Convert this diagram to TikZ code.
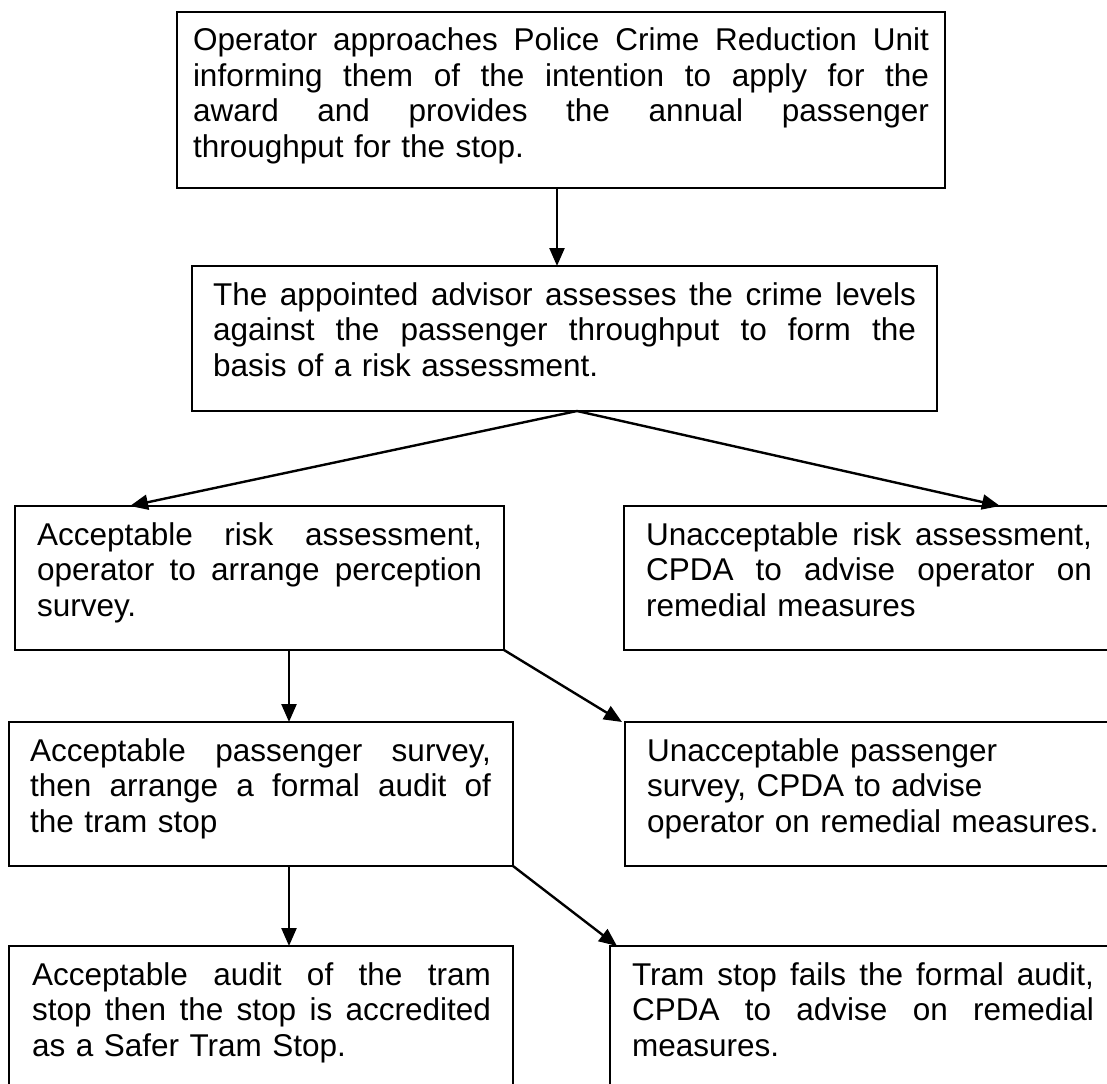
\documentclass[tikz,border=0pt]{standalone}
\usepackage{fontspec}
\setmainfont{Liberation Sans}
\usetikzlibrary{arrows.meta,calc}
\newcommand\myS{\rule[-10pt]{0pt}{35pt}}
\newcommand\myJ[2]{\myS\hbox to #1{\frenchspacing\spaceskip=0.278em plus 1fil\relax #2}}
\newcommand\myL[1]{\myS #1}
\begin{document}
\begin{tikzpicture}[x=1pt,y=-1pt,
  boxline/.style={draw=black, line width=1.8pt},
  boxn/.style={rectangle, inner sep=0pt, outer sep=0pt, anchor=north west},
  txt/.style={inner sep=0pt, outer sep=0pt, anchor=north west, align=left,
              font=\fontsize{31.5}{35.5}\selectfont},
  openline/.style={draw=black, line width=1.8pt, line cap=rect},
  arr/.style={line width=2.4pt, -{Triangle[length=18pt,width=15pt]}}]
\fill[white] (0,0) rectangle (1107,1083);
\useasboundingbox (0,0) rectangle (1107,1083);

% boxes
\node[boxn, boxline, minimum width=768pt, minimum height=176pt] (b1) at (177,12) {};
\node[boxn, boxline, minimum width=745pt, minimum height=145pt] (b2) at (192,266) {};
\node[boxn, boxline, minimum width=489pt, minimum height=144pt] (b3l) at (15,506) {};
\node[boxn, minimum width=483pt, minimum height=144pt] (b3r) at (624,506) {};
\node[boxn, boxline, minimum width=504pt, minimum height=144pt] (b4l) at (9,722) {};
\node[boxn, minimum width=482pt, minimum height=144pt] (b4r) at (625,722) {};
\node[boxn, minimum width=504pt, minimum height=137pt] (b5l) at (9,946) {};
\node[boxn, minimum width=497pt, minimum height=137pt] (b5r) at (610,946) {};

% open borders (cut by the picture edge)
\draw[openline] (b3r.north east) -- (b3r.north west) -- (b3r.south west) -- (b3r.south east);
\draw[openline] (b4r.north east) -- (b4r.north west) -- (b4r.south west) -- (b4r.south east);
\draw[openline] (b5l.south west) -- (b5l.north west) -- (b5l.north east) -- (b5l.south east);
\draw[openline] (b5r.north east) -- (b5r.north west) -- (b5r.south west);

% texts
\node[txt, text width=736pt] (t1) at ($(b1.north west)+(16,14)$) {%
\myJ{736pt}{Operator approaches Police Crime Reduction Unit}\\
\myJ{736pt}{informing them of the intention to apply for the}\\
\myJ{736pt}{award and provides the annual passenger}\\
\myL{throughput for the stop.}};

\node[txt, text width=703pt] (t2) at ($(b2.north west)+(21,14)$) {%
\myJ{703pt}{The appointed advisor assesses the crime levels}\\
\myJ{703pt}{against the passenger throughput to form the}\\
\myL{basis of a risk assessment.}};

\node[txt, text width=445pt] (t3l) at ($(b3l.north west)+(22,14)$) {%
\myJ{445pt}{Acceptable risk assessment,}\\
\myJ{445pt}{operator to arrange perception}\\
\myL{survey.}};

\node[txt, text width=446pt] (t3r) at ($(b3r.north west)+(22,14)$) {%
\myJ{446pt}{Unacceptable risk assessment,}\\
\myJ{446pt}{CPDA to advise operator on}\\
\myL{remedial measures}};

\node[txt, text width=461pt] (t4l) at ($(b4l.north west)+(21,14)$) {%
\myJ{461pt}{Acceptable passenger survey,}\\
\myJ{461pt}{then arrange a formal audit of}\\
\myL{the tram stop}};

\node[txt, text width=460pt] (t4r) at ($(b4r.north west)+(22,14)$) {%
\myL{Unacceptable passenger}\\
\myL{survey, CPDA to advise}\\
\myL{operator on remedial measures.}};

\node[txt, text width=459pt] (t5l) at ($(b5l.north west)+(23,14)$) {%
\myJ{459pt}{Acceptable audit of the tram}\\
\myJ{459pt}{stop then the stop is accredited}\\
\myL{as a Safer Tram Stop.}};

\node[txt, text width=462pt] (t5r) at ($(b5r.north west)+(22,14)$) {%
\myJ{462pt}{Tram stop fails the formal audit,}\\
\myJ{462pt}{CPDA to advise on remedial}\\
\myL{measures.}};

% connectors
\coordinate (s1) at ($(b1.south)+(-4,0)$);
\draw[arr] (s1) -- (s1 |- b2.north);
\coordinate (s2) at ($(b2.south)+(12.5,0)$);
\draw[arr] (s2) -- ($(b3l.north west)+(115,0)$);
\draw[arr] (s2) -- ($(b3r.north east)+(-107,0)$);
\coordinate (s3) at ($(b3l.south west)+(274,0)$);
\draw[arr] (s3) -- (s3 |- b4l.north);
\draw[arr] (b3l.south east) -- ($(b4r.north west)+(-3,0)$);
\coordinate (s4) at ($(b4l.south west)+(280,0)$);
\draw[arr] (s4) -- (s4 |- b5l.north);
\draw[arr] (b4l.south east) -- ($(b5r.north west)+(7,0)$);
\end{tikzpicture}
\end{document}
